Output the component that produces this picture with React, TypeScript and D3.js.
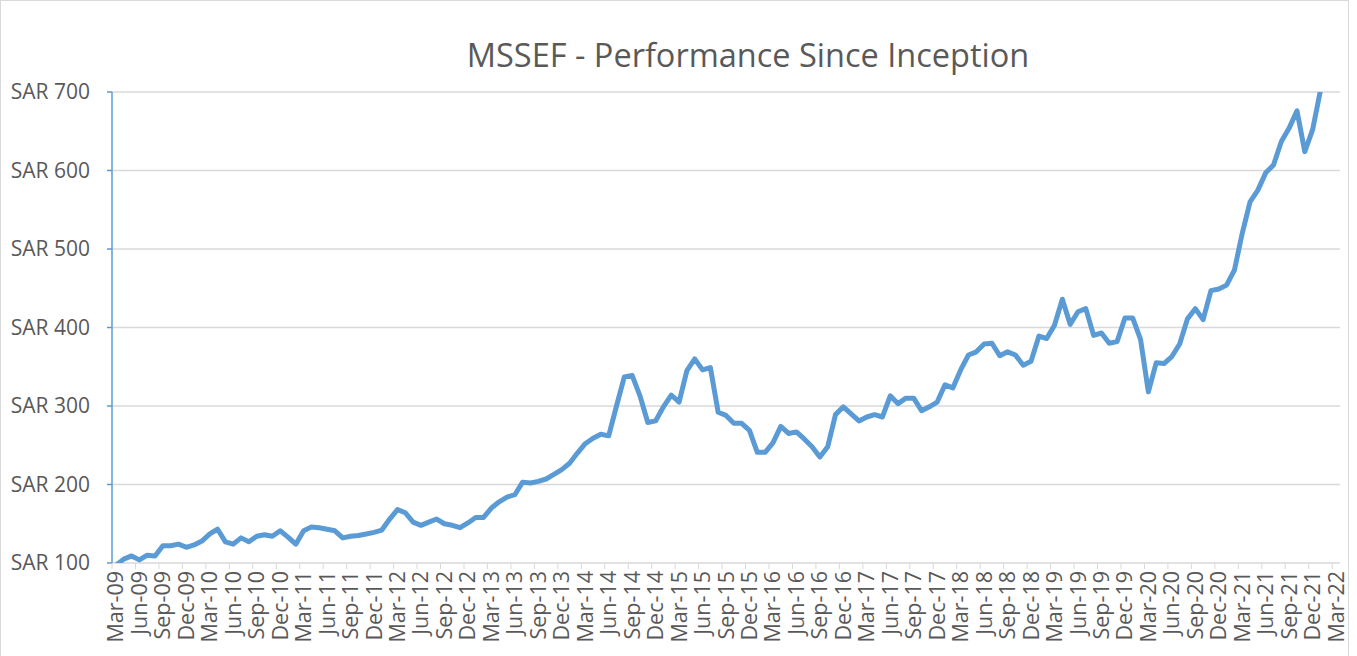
import React from 'react';
import {scaleBand,scaleLinear,line,curveLinear} from 'd3';

// month labels from Mar-09 to Mar-22 (axis categories)
const monthNames=["Jan","Feb","Mar","Apr","May","Jun","Jul","Aug","Sep","Oct","Nov","Dec"];
const startYear=2009;
const startMonth=2; // March
const axisMonths=157;

// fund value (SAR), monthly, Mar-09 .. Jan-22
const navValues=[
  97,105,109,104,110,109,122,122,124,120,123,128,
  137,143,127,124,132,127,134,136,134,141,133,124,
  141,146,145,143,141,132,134,135,137,139,142,156,
  168,164,152,148,152,156,150,148,145,151,158,158,
  170,178,184,187,203,202,204,207,213,219,227,240,
  252,259,264,262,300,337,339,313,279,281,299,314,
  305,345,360,346,349,292,288,278,278,269,241,241,
  253,274,265,267,258,248,235,248,289,299,290,281,
  286,289,286,313,303,310,310,294,299,305,327,323,
  346,365,369,379,380,364,369,365,352,357,389,386,
  403,436,404,420,424,390,393,380,382,412,412,385,
  318,355,354,363,379,411,424,410,447,449,454,473,
  520,560,575,597,607,637,654,676,624,652,702
];

const yTicks=[100,200,300,400,500,600,700];
const title="MSSEF - Performance Since Inception";

const monthLabel=(i:number)=>{
  const m=(startMonth+i)%12;
  const y=startYear+Math.floor((startMonth+i)/12);
  return `${monthNames[m]}-${String(y%100).padStart(2,'0')}`;
};

const App=()=>{
  const width=1357, height=656;
  const left=112, right=1340, top=92, bottom=563;

  const cats=Array.from({length:axisMonths},(_,i)=>monthLabel(i));
  const x=scaleBand<string>().domain(cats).range([left,right]).padding(0);
  const y=scaleLinear().domain([100,700]).range([bottom,top]);

  const pts=navValues.map((v,i)=>({c:cats[i],v}));
  const path=line<{c:string,v:number}>()
    .x(d=>(x(d.c) as number)+x.bandwidth()/2)
    .y(d=>y(d.v))
    .curve(curveLinear)(pts);

  const quarterIdx=cats.map((_,i)=>i).filter(i=>i%3===0);
  const font="'Open Sans', sans-serif";
  const grey="#595959";

  return (
    <svg width={width} height={height} style={{position:'absolute',left:0,top:0,background:'#fff'}}>
      <defs>
        <clipPath id="plotclip">
          <rect x={left} y={top} width={right-left} height={bottom-top}/>
        </clipPath>
      </defs>
      <rect x={0.5} y={0.5} width={1348} height={670} fill="#fff" stroke="#d9d9d9"/>
      <text x={748} y={67} textAnchor="middle" fontFamily={font} fontSize={32.5} fill={grey}>{title}</text>

      {yTicks.map(t=>(
        <g key={t}>
          <line x1={left} x2={right} y1={y(t)} y2={y(t)} stroke="#d9d9d9" strokeWidth={1.5}/>
          <line x1={left-5} x2={left} y1={y(t)} y2={y(t)} stroke="#5b9bd5" strokeWidth={1.5}/>
          <text x={90} y={y(t)} dy="0.35em" textAnchor="end" fontFamily={font} fontSize={21} fill={grey}>{`SAR ${t}`}</text>
        </g>
      ))}

      {quarterIdx.map(i=>{
        const bx=x(cats[i]) as number;
        const cx=bx+x.bandwidth()/2;
        return (
          <g key={i}>
            <line x1={bx} x2={bx} y1={bottom} y2={bottom+6} stroke="#d9d9d9" strokeWidth={1}/>
            <text transform={`translate(${cx},${571}) rotate(-90)`} dy="0.35em" textAnchor="end" fontFamily={font} fontSize={21.5} fill={grey}>{cats[i]}</text>
          </g>
        );
      })}

      <line x1={left} x2={left} y1={top} y2={bottom} stroke="#5b9bd5" strokeWidth={1.5}/>

      <path d={path??''} fill="none" stroke="#5b9bd5" strokeWidth={5} strokeLinejoin="round" strokeLinecap="round" clipPath="url(#plotclip)"/>
    </svg>
  );
};

export default App;
